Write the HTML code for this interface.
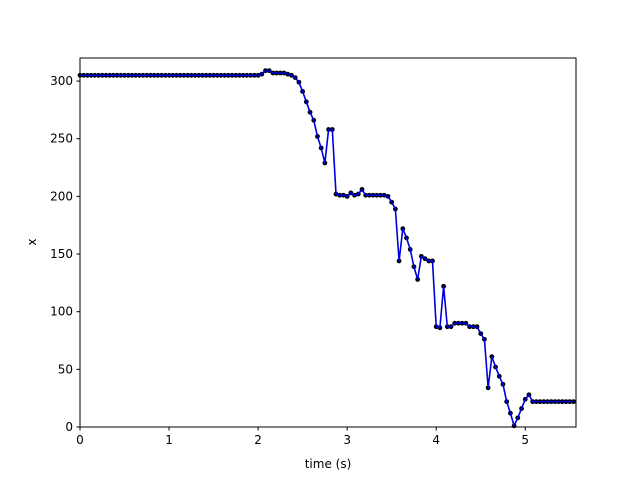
<!DOCTYPE html>
<html><head><meta charset="utf-8"><style>body{margin:0;background:#fff}svg{display:block}text{font-family:"DejaVu Sans","Liberation Sans",sans-serif;font-size:12px;fill:#000}</style></head>
<body>
<svg id="chart" width="640" height="480" xmlns="http://www.w3.org/2000/svg">
<rect x="0" y="0" width="640" height="480" fill="#fff"/>
<g id="plot"></g>
<rect x="80" y="58" width="496" height="369" fill="none" stroke="#000" stroke-width="1"/>
<g id="axes"></g>
<text x="328" y="468" text-anchor="middle">time (s)</text>
<text x="36" y="242" text-anchor="middle" transform="rotate(-90 36 242)">x</text>
</svg>
<script>
const dt = 1/24;
const values = [
305,305,305,305,305,305,305,305,305,305,305,305,305,305,305,305,305,305,305,305,
305,305,305,305,305,305,305,305,305,305,305,305,305,305,305,305,305,305,305,305,
305,305,305,305,305,305,305,305,305,
306,309,309,307,307,307,307,306,305,303,299,291,282,273,266,252,242,229,258,258,
202,201,201,200,203,201,202,206,201,201,201,201,201,201,200,195,189,144,172,164,154,
139,128,148,146,144,144,87,86,122,87,87,90,90,90,90,87,87,87,81,76,
34,61,52,44,37,22,12,1,8,16,24,28,22,22,22,22,22,22,22,22,22,22,22,22
];
const xTicks = [0,1,2,3,4,5];
const yTicks = [0,50,100,150,200,250,300];
const xMax = 5.57, yMax = 320;
const L=80,R=576,T=58,B=427;
const sx = v => L + v/xMax*(R-L);
const sy = v => B - v/yMax*(B-T);
const NS="http://www.w3.org/2000/svg";
const plot=document.getElementById('plot'), axes=document.getElementById('axes');
values.forEach((v,i)=>{
 const c=document.createElementNS(NS,'circle');
 c.setAttribute('cx',sx(i*dt));c.setAttribute('cy',sy(v));c.setAttribute('r','2.4');c.setAttribute('fill','#000');
 
 
 plot.appendChild(c);
});
let d='';
values.forEach((v,i)=>{d+=(i?'L':'M')+sx(i*dt).toFixed(2)+' '+sy(v).toFixed(2);});
const line=document.createElementNS(NS,'path');
line.setAttribute('d',d);line.setAttribute('fill','none');line.setAttribute('stroke','#0000dd');line.setAttribute('stroke-width','1.6');line.setAttribute('stroke-linejoin','round');


plot.appendChild(line);
xTicks.forEach(t=>{
 const x=sx(t);
 const l=document.createElementNS(NS,'line');
 l.setAttribute('x1',x);l.setAttribute('x2',x);l.setAttribute('y1',B);l.setAttribute('y2',B+3.5);l.setAttribute('stroke','#000');
 
 
 axes.appendChild(l);
 const tx=document.createElementNS(NS,'text');
 tx.setAttribute('x',x);tx.setAttribute('y',B+17);tx.setAttribute('text-anchor','middle');tx.textContent=t;
 
 
 axes.appendChild(tx);
});
yTicks.forEach(t=>{
 const y=sy(t);
 const l=document.createElementNS(NS,'line');
 l.setAttribute('x1',L-3.5);l.setAttribute('x2',L);l.setAttribute('y1',y);l.setAttribute('y2',y);l.setAttribute('stroke','#000');
 
 
 axes.appendChild(l);
 const tx=document.createElementNS(NS,'text');
 tx.setAttribute('x',L-7);tx.setAttribute('y',y+4);tx.setAttribute('text-anchor','end');tx.textContent=t;
 
 
 axes.appendChild(tx);
});
</script>
</body></html>
